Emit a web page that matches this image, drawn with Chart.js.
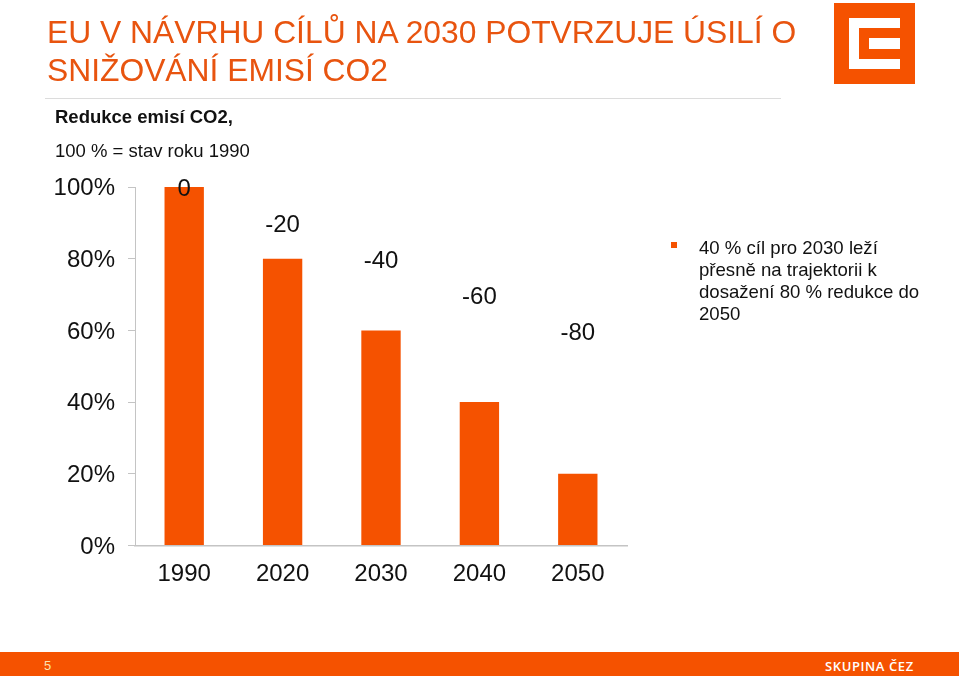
<!DOCTYPE html>
<html lang="cs">
<head>
<meta charset="utf-8">
<title>Redukce emisí CO2</title>
<script src="https://cdn.jsdelivr.net/npm/chart.js"></script>
<style>
    html, body { margin: 0; padding: 0; background: #fff; }
    body { width: 959px; height: 676px; position: relative; overflow: hidden; font-family: "Liberation Sans", Arial, sans-serif; }
    .abs { position: absolute; white-space: nowrap; }
    #chart-container { position: absolute; left: 0; top: 0; width: 959px; height: 676px; }
    #title { left: 47px; top: 13px; font-size: 31.8px; line-height: 38px; color: #E8540F; }
    #rule { left: 45px; top: 98px; width: 736px; height: 1px; background: #dcdcdc; }
    #sub1 { left: 55px; top: 106px; font-size: 18.5px; font-weight: bold; color: #111; }
    #sub2 { left: 55px; top: 140px; font-size: 18.5px; color: #111; }
    #bullet { left: 671px; top: 242px; width: 6px; height: 6px; background: #F55200; }
    #note { left: 699px; top: 237px; font-size: 18.6px; line-height: 22px; color: #111; }
    #footer { left: 0; top: 652px; width: 959px; height: 24px; background: #F55200; }
    #page { left: 44px; top: 658px; font-size: 13px; color: #FBE3B0; }
    #brand { left: 825px; top: 657px; font-family: "Open Sans", sans-serif; font-weight: 600; font-size: 13px; letter-spacing: 0.6px; color: #fff; }
    .logo { position: absolute; }
</style>
</head>
<body>
<div id="chart-container"><canvas id="chart" width="959" height="676"></canvas></div>
<div class="abs" id="title">EU V NÁVRHU CÍLŮ NA 2030 POTVRZUJE ÚSILÍ O<br>SNIŽOVÁNÍ EMISÍ CO2</div>
<div class="abs" id="rule"></div>
<div class="abs" id="sub1">Redukce emisí CO2,</div>
<div class="abs" id="sub2">100 % = stav roku 1990</div>
<div class="abs" id="bullet"></div>
<div class="abs" id="note">40 % cíl pro 2030 leží<br>přesně na trajektorii k<br>dosažení 80 % redukce do<br>2050</div>
<div class="logo" style="left:834px;top:3px;width:81px;height:81px;background:#F55200"></div>
<div class="logo" style="left:849px;top:18px;width:51px;height:51px;background:#fff"></div>
<div class="logo" style="left:859px;top:28px;width:41px;height:31px;background:#F55200"></div>
<div class="logo" style="left:869px;top:38px;width:31px;height:11px;background:#fff"></div>
<div class="abs" id="footer"></div>
<div class="abs" id="page">5</div>
<div class="abs" id="brand">SKUPINA ČEZ</div>
<script>
document.addEventListener("DOMContentLoaded", () => {
    const data = [
        { year: '1990', level: 100, anchor: 100, label: '0' },
        { year: '2020', level: 80, anchor: 90, label: '-20' },
        { year: '2030', level: 60, anchor: 80, label: '-40' },
        { year: '2040', level: 40, anchor: 70, label: '-60' },
        { year: '2050', level: 20, anchor: 60, label: '-80' }
    ];

    // Labels sit on an invisible line series, as in the original chart
    const lineLabels = {
        id: 'lineLabels',
        afterDatasetsDraw(chart) {
            const { ctx } = chart;
            const points = chart.getDatasetMeta(1).data;
            ctx.save();
            ctx.font = '24px "Liberation Sans", Arial, sans-serif';
            ctx.fillStyle = '#111';
            ctx.textAlign = 'center';
            ctx.textBaseline = 'middle';
            points.forEach((pt, i) => ctx.fillText(data[i].label, pt.x, pt.y + 2.5));
            ctx.restore();
        }
    };

    new Chart(document.getElementById('chart').getContext('2d'), {
        data: {
            labels: data.map(d => d.year),
            datasets: [
                {
                    type: 'bar',
                    data: data.map(d => d.level),
                    backgroundColor: '#F55200',
                    barPercentage: 0.4,
                    categoryPercentage: 1
                },
                {
                    type: 'line',
                    data: data.map(d => d.anchor),
                    showLine: false,
                    pointRadius: 0
                }
            ]
        },
        options: {
            responsive: false,
            animation: false,
            layout: { padding: { top: 187, right: 332, left: 0, bottom: 0 } },
            plugins: { legend: { display: false }, tooltip: { enabled: false } },
            scales: {
                x: {
                    grid: { drawOnChartArea: false, drawTicks: false, color: '#c4c4c4' },
                    border: { color: '#c4c4c4', width: 1.5 },
                    ticks: { color: '#111', font: { size: 24, family: '"Liberation Sans", Arial, sans-serif' }, padding: 14, maxRotation: 0 },
                    afterFit(axis) { axis.height = 130.5; }
                },
                y: {
                    min: 0,
                    max: 100,
                    grid: { drawOnChartArea: false, tickLength: 7, color: '#c4c4c4' },
                    border: { color: '#c4c4c4', width: 1 },
                    ticks: {
                        stepSize: 20,
                        color: '#111',
                        padding: 13,
                        labelOffset: 1.5,
                        font: { size: 24, family: '"Liberation Sans", Arial, sans-serif' },
                        callback: v => v + '%'
                    },
                    afterFit(axis) { axis.width = 135; }
                }
            }
        },
        plugins: [lineLabels]
    });
});
</script>
</body>
</html>
